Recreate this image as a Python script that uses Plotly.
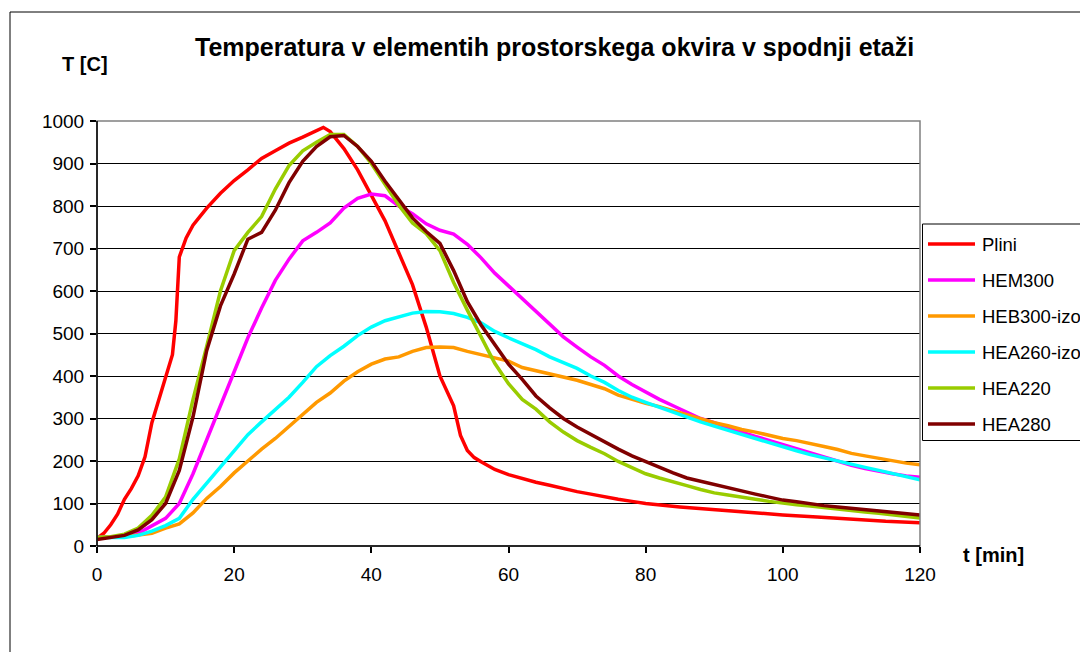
import plotly.graph_objects as go

# ---------------- data ----------------
title_text = "Temperatura v elementih prostorskega okvira v spodnji etaži"
y_title = "T [C]"
x_title = "t [min]"

series_names = ["Plini", "HEM300", "HEB300-izo", "HEA260-izo", "HEA220", "HEA280"]
series_colors = ["#FF0000", "#FF00FF", "#FF9900", "#00FFFF", "#99CC00", "#800000"]

x_ticks = [0, 20, 40, 60, 80, 100, 120]
y_ticks = [0, 100, 200, 300, 400, 500, 600, 700, 800, 900, 1000]

# Plini (gas temperature) - own time grid
t_plini = [0, 1, 2, 3, 4, 5, 6, 7, 8, 9, 10, 11, 11.5, 12, 13, 14, 15, 16, 18, 20,
           22, 24, 26, 28, 30, 32, 33, 34, 36, 38, 40, 42, 44, 46, 48, 50, 52, 53,
           54, 55, 56, 58, 60, 62, 64, 66, 68, 70, 72, 74, 76, 78, 80, 85, 90, 95,
           100, 105, 110, 115, 120]
plini = [18, 30, 50, 75, 110, 135, 165, 210, 290, 345, 395, 450, 530, 680, 725, 755,
         775, 795, 830, 860, 885, 912, 930, 948, 962, 978, 985, 975, 935, 885, 825,
         765, 690, 615, 515, 400, 330, 260, 225, 208, 198, 180, 168, 158, 150, 143,
         135, 128, 122, 115, 110, 105, 100, 92, 85, 78, 73, 68, 62, 58, 55]

# common time grid for the steel elements
t_min = list(range(0, 122, 2))

hem300 = [20, 20, 22, 30, 48, 65, 100, 170, 250, 330, 410, 490, 560, 625, 675, 718,
          738, 760, 795, 818, 828, 824, 800, 782, 758, 743, 734, 710, 678, 642, 612,
          582, 550, 520, 492, 468, 445, 425, 400, 380, 362, 345, 330, 315, 300, 290,
          278, 268, 258, 248, 238, 228, 218, 208, 198, 190, 182, 175, 170, 165, 162]

heb300_izo = [20, 20, 22, 26, 30, 42, 52, 78, 112, 140, 172, 200, 228, 253, 282, 310,
              338, 360, 388, 410, 428, 440, 445, 458, 467, 468, 467, 458, 450, 442, 435,
              420, 413, 406, 398, 390, 380, 370, 355, 345, 336, 328, 318, 308, 298, 290,
              283, 274, 268, 260, 253, 248, 240, 234, 227, 218, 212, 206, 200, 195, 191]

hea260_izo = [20, 20, 20, 25, 35, 48, 65, 110, 148, 188, 225, 262, 292, 320, 350, 385,
              422, 448, 470, 495, 515, 530, 540, 548, 552, 551, 547, 538, 525, 505, 490,
              476, 462, 445, 432, 418, 400, 385, 366, 350, 338, 326, 316, 304, 292, 282,
              272, 262, 253, 243, 232, 224, 215, 207, 200, 192, 185, 178, 170, 162, 156]

hea220 = [20, 22, 28, 42, 72, 115, 205, 345, 470, 600, 695, 738, 775, 840, 895, 930,
          950, 968, 968, 940, 900, 852, 802, 760, 735, 695, 620, 555, 492, 430, 382,
          345, 322, 292, 268, 248, 232, 217, 199, 185, 170, 160, 150, 142, 133, 125,
          120, 114, 110, 105, 100, 97, 94, 90, 86, 82, 80, 77, 74, 70, 66]

hea280 = [15, 20, 25, 38, 62, 100, 178, 304, 460, 565, 640, 722, 738, 790, 855, 905,
          940, 963, 966, 940, 905, 858, 815, 772, 740, 712, 648, 575, 520, 473, 428,
          392, 353, 325, 300, 280, 262, 244, 228, 212, 198, 185, 172, 160, 152, 145,
          138, 130, 122, 115, 108, 104, 99, 95, 92, 89, 86, 82, 79, 76, 73]

series_x = [t_plini, t_min, t_min, t_min, t_min, t_min]
series_y = [plini, hem300, heb300_izo, hea260_izo, hea220, hea280]

# ---------------- layout helpers ----------------
OFF = 8  # page body margin
W, H = 1088 - OFF, 652 - OFF
# plot area in reference (window) pixels
RL, RR, RT, RB = 97, 920, 121, 546


def px(xp):
    return (xp - RL) / (RR - RL)


def py(yp):
    return (RB - yp) / (RB - RT)


FONT = "Liberation Sans, Arial, sans-serif"

fig = go.Figure()
for name, color, xs, ys in zip(series_names, series_colors, series_x, series_y):
    fig.add_trace(go.Scatter(x=xs, y=ys, mode="lines", name=name,
                             line=dict(color=color, width=3.5),
                             showlegend=False, hoverinfo="x+y+name"))

shapes = []
annotations = []

# outer chart border
shapes.append(dict(type="rect", xref="paper", yref="paper",
                   x0=px(10), x1=px(1100), y0=py(670), y1=py(12),
                   line=dict(color="#000000", width=1), layer="below"))
# plot area border (grey)
shapes.append(dict(type="rect", xref="paper", yref="paper",
                   x0=0, x1=1, y0=0, y1=1,
                   line=dict(color="#808080", width=1.5), layer="above"))
# left & bottom axes (black)
shapes.append(dict(type="line", xref="paper", yref="paper", x0=0, x1=0, y0=0, y1=1,
                   line=dict(color="#000000", width=1.5), layer="above"))
shapes.append(dict(type="line", xref="paper", yref="paper", x0=0, x1=1, y0=0, y1=0,
                   line=dict(color="#000000", width=1.5), layer="above"))

# custom legend
leg_top, leg_bot = 224, 440.5
shapes.append(dict(type="rect", xref="paper", yref="paper",
                   x0=px(922.5), x1=px(1100), y0=py(leg_bot), y1=py(leg_top),
                   line=dict(color="#000000", width=1), fillcolor="white", layer="above"))
for i, (name, color) in enumerate(zip(series_names, series_colors)):
    yy = 244 + 36 * i
    shapes.append(dict(type="line", xref="paper", yref="paper",
                       x0=px(928), x1=px(975), y0=py(yy), y1=py(yy),
                       line=dict(color=color, width=3.5), layer="above"))
    annotations.append(dict(text=name, xref="paper", yref="paper",
                            x=px(980), y=py(yy), xanchor="left", yanchor="middle",
                            showarrow=False, font=dict(family=FONT, size=18.5, color="black")))

# titles
annotations.append(dict(text="<b>" + title_text + "</b>", xref="paper", yref="paper",
                        x=px(554.5), y=py(47), xanchor="center", yanchor="middle",
                        showarrow=False, font=dict(family=FONT, size=25, color="black")))
annotations.append(dict(text="<b>" + y_title + "</b>", xref="paper", yref="paper",
                        x=px(85), y=py(64), xanchor="center", yanchor="middle",
                        showarrow=False, font=dict(family=FONT, size=20, color="black")))
annotations.append(dict(text="<b>" + x_title + "</b>", xref="paper", yref="paper",
                        x=px(993), y=py(555), xanchor="center", yanchor="middle",
                        showarrow=False, font=dict(family=FONT, size=20, color="black")))

fig.update_layout(
    width=W, height=H,
    margin=dict(l=RL - OFF, r=W - (RR - OFF), t=RT - OFF, b=H - (RB - OFF), pad=0),
    paper_bgcolor="white", plot_bgcolor="white",
    font=dict(family=FONT, size=19, color="black"),
    shapes=shapes, annotations=annotations, showlegend=False,
    xaxis=dict(range=[0, 120], tickvals=x_ticks, ticktext=[str(v) for v in x_ticks],
               ticks="outside", ticklen=6, tickwidth=1.5, tickcolor="black",
               ticklabelstandoff=5,
               showgrid=False, zeroline=False, showline=False,
               tickfont=dict(family=FONT, size=19, color="black")),
    yaxis=dict(range=[0, 1000], tickvals=y_ticks, ticktext=[str(v) for v in y_ticks],
               ticks="outside", ticklen=6, tickwidth=1.5, tickcolor="black",
               ticklabelstandoff=2,
               showgrid=True, gridcolor="#000000", gridwidth=1,
               zeroline=False, showline=False,
               tickfont=dict(family=FONT, size=19, color="black")),
)

fig.write_html("out.html")
